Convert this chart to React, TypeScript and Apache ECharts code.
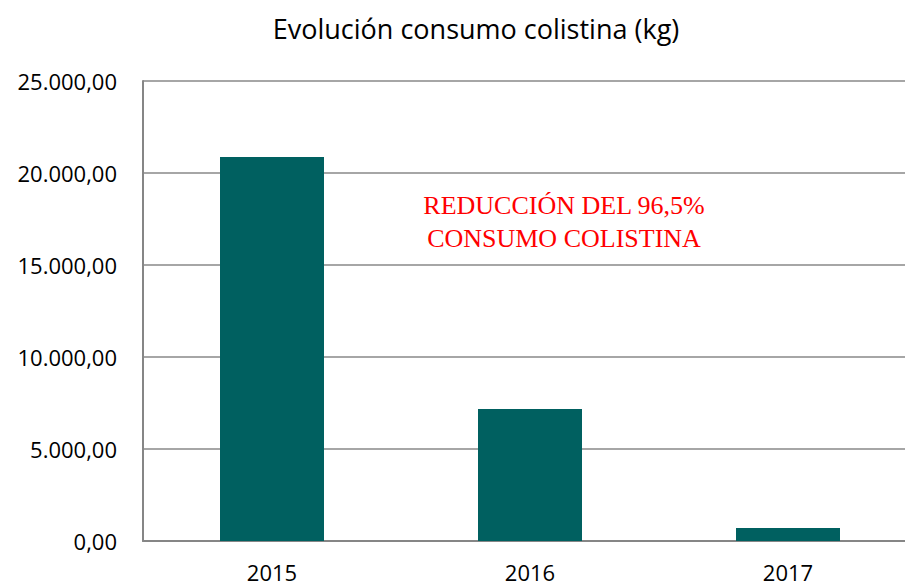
import React, { useEffect, useRef } from "react";
import * as echarts from "echarts";

const categories = ["2015", "2016", "2017"];
const consumo = [20870, 7170, 710];
const yTicks = { min: 0, max: 25000, interval: 5000 };
const titleText = "Evolución consumo colistina (kg)";
const noteLines = ["REDUCCIÓN DEL 96,5%", "CONSUMO COLISTINA"];

const fmt = (v: number) =>
  v.toFixed(2).replace(".", ",").replace(/\B(?=(\d{3})+(?!\d))/g, ".");

export default function App() {
  const ref = useRef<HTMLDivElement>(null);
  useEffect(() => {
    document.body.style.margin = "0";
    document.body.style.overflow = "hidden";
    const chart = echarts.init(ref.current!, null, { renderer: "svg" });
    const font = "'Open Sans', 'Noto Sans', sans-serif";
    chart.setOption({
      animation: false,
      backgroundColor: "#ffffff",
      title: {
        text: titleText,
        left: 471,
        top: 10,
        textAlign: "center",
        textStyle: { fontFamily: font, fontSize: 27, fontWeight: "normal", color: "#000" },
      },
      grid: { left: 143, right: 0, top: 81, bottom: 45 },
      xAxis: {
        type: "category",
        data: categories,
        axisLine: { lineStyle: { color: "#868686", width: 2 } },
        axisTick: { show: false },
        axisLabel: { fontFamily: font, fontSize: 22, color: "#000", margin: 20 },
      },
      yAxis: {
        type: "value",
        min: yTicks.min,
        max: yTicks.max,
        interval: yTicks.interval,
        axisLine: { show: true, lineStyle: { color: "#868686", width: 2 } },
        axisTick: { show: false },
        splitLine: { lineStyle: { color: "#a6a6a6", width: 2 } },
        axisLabel: { fontFamily: font, fontSize: 22, color: "#000", margin: 26, formatter: fmt },
      },
      series: [
        {
          type: "bar",
          data: consumo,
          barWidth: 104,
          itemStyle: { color: "#006060" },
        },
      ],
      graphic: [
        {
          type: "text",
          x: 564,
          y: 222,
          style: {
            text: noteLines.join("\n"),
            fill: "#ff0000",
            font: "26px 'Liberation Serif', 'Times New Roman', serif",
            textAlign: "center",
            textVerticalAlign: "middle",
            lineHeight: 33,
          },
        },
      ],
    });
    return () => chart.dispose();
  }, []);
  return <div ref={ref} style={{ width: 917, height: 586 }} />;
}
